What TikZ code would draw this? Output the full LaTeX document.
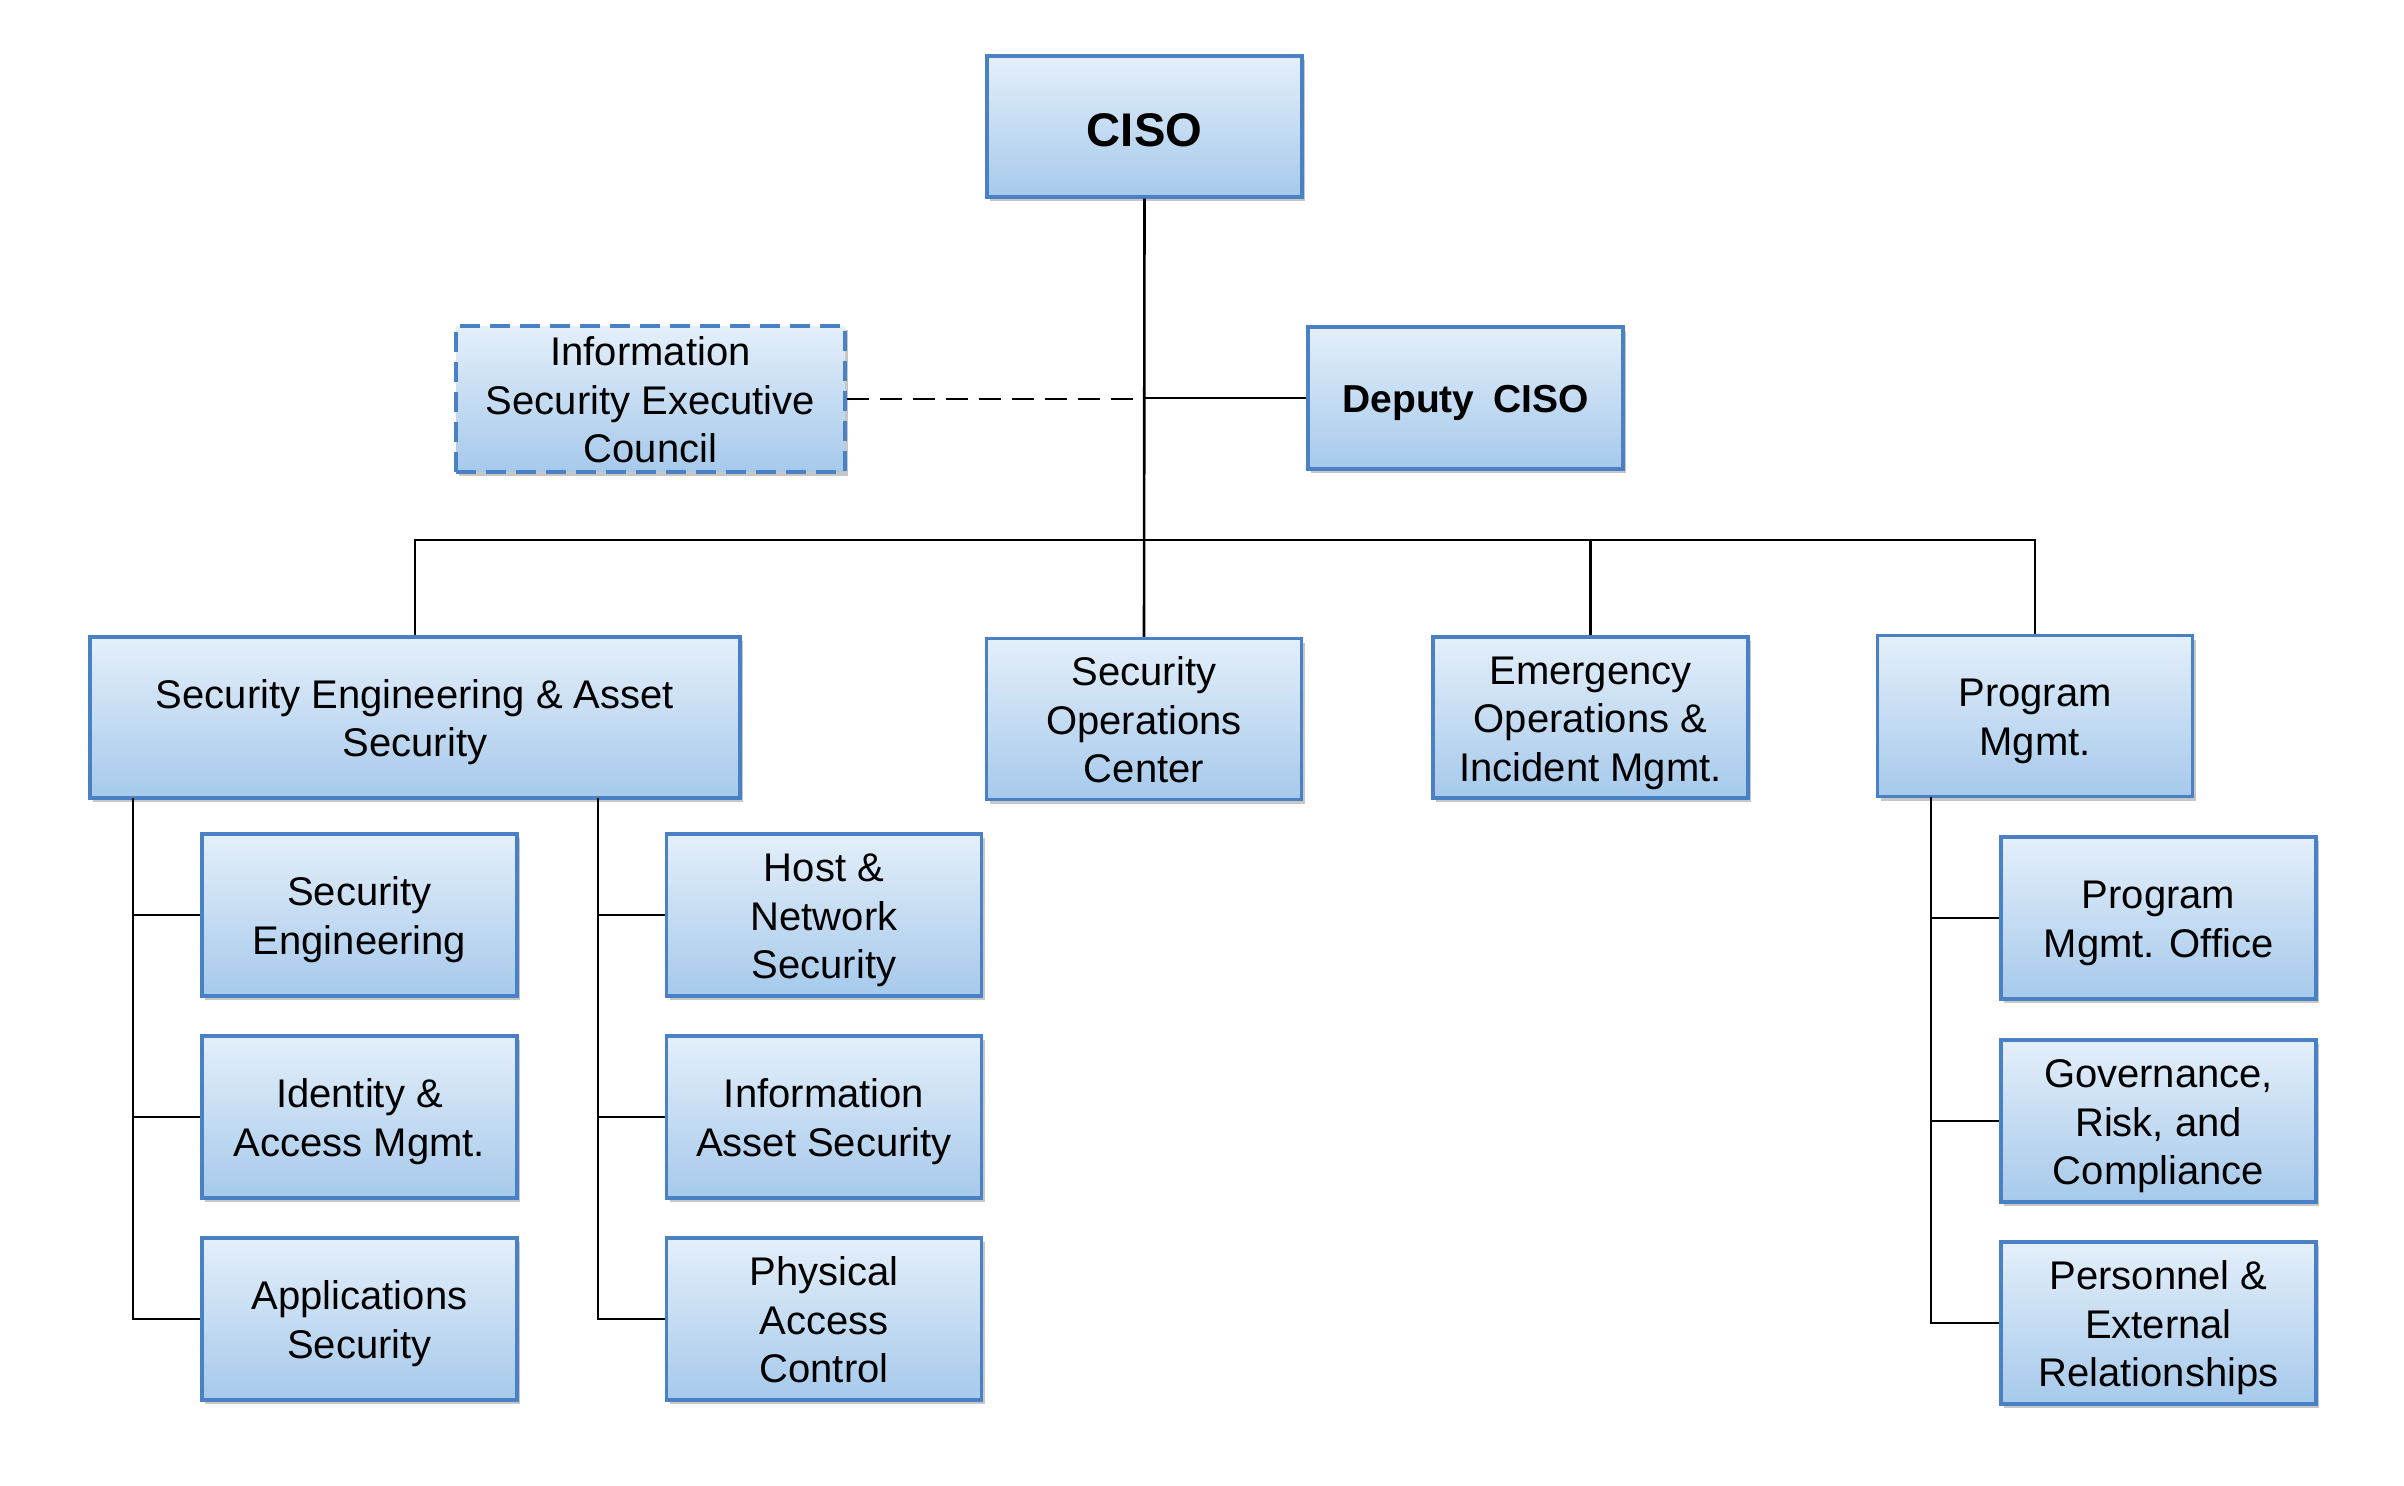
\documentclass[tikz,border=0pt]{standalone}
\usepackage{fontspec}
\setmainfont{Liberation Sans}
\usetikzlibrary{shadows}
\definecolor{bordc}{HTML}{4A80C4}
\definecolor{topc}{HTML}{E4EFFA}
\definecolor{botc}{HTML}{A6C9EB}
\newcommand\tx[2][-2.7pt]{\raisebox{#1}[\height][\depth]{\begin{tabular}{@{}c@{}}#2\end{tabular}}}
\tikzset{
  box/.style={draw=bordc, line width=1.7pt, top color=topc, bottom color=botc,
    inner sep=0pt, text=black,
    font=\fontsize{20}{24.3}\selectfont,
    drop shadow={shadow xshift=1.5pt, shadow yshift=-2.2pt, opacity=0.4, fill=black!55}},
  lvl/.style={box, minimum width=157.5pt, minimum height=80.5pt},
  kid/.style={box, minimum width=157.5pt, minimum height=81pt},
  conn/.style={draw=black, line width=1.3pt},
}
\begin{document}
\begin{tikzpicture}[x=0.5pt, y=-0.5pt]
\useasboundingbox (0,0) rectangle (2404,1486);
% top
\node[box, minimum width=157.5pt, minimum height=70.5pt, font=\fontsize{23.6}{26}\selectfont\bfseries] (ciso) at (1144.5,126.5) {\tx[-4.8pt]{CISO}};
\node[box, dashed, dash pattern=on 10pt off 5pt, minimum width=194.5pt, minimum height=71pt] (council) at (650.5,399) {\tx{Information\\Security Executive\\Council}};
\node[box, minimum width=157.5pt, minimum height=71pt, font=\fontsize{19.5}{24}\selectfont\bfseries] (deputy) at (1465.5,398) {\tx{Deputy\kern4pt\ CISO}};
% level 2
\node[box, minimum width=325pt, minimum height=80.5pt] (seas) at (415,717.5) {\tx{Security Engineering \& Asset\\Security}};
\node[lvl] (soc) at (1144,719) {\tx{Security\\Operations\\Center}};
\node[lvl] (emer) at (1590.5,717.5) {\tx{Emergency\\Operations \&\\Incident Mgmt.}};
\node[lvl] (prog) at (2035,716) {\tx{Program\\Mgmt.}};
% children left
\node[kid] (seceng) at (359.5,915) {\tx{Security\\Engineering}};
\node[kid] (ident) at (359.5,1117) {\tx{Identity \&\\Access Mgmt.}};
\node[kid] (apps) at (359.5,1319) {\tx{Applications\\Security}};
\node[kid] (host) at (824,915) {\tx{Host \&\\Network\\Security}};
\node[kid] (infoa) at (824,1117) {\tx{Information\\Asset Security}};
\node[kid] (phys) at (824,1319) {\tx{Physical\\Access\\Control}};
% children right
\node[kid] (pmo) at (2158.5,918) {\tx{Program\\Mgmt. Office}};
\node[kid] (grc) at (2158.5,1121) {\tx{Governance,\\Risk, and\\Compliance}};
\node[kid] (pers) at (2158.5,1323) {\tx{Personnel \&\\External\\Relationships}};
% connectors
\coordinate (busy) at (0,540);
\coordinate (t1) at (133,798);
\coordinate (t2) at (598,798);
\coordinate (t3) at (1931,797);
\draw[conn] (ciso.south) -- (soc.north);
\draw[conn] (deputy.west) -- (deputy.west -| ciso.south);
\draw[conn, dashed, dash pattern=on 11pt off 5.5pt] (council.east) -- (council.east -| ciso.south);
\draw[conn] (seas.north) |- (busy -| prog.north) -- (prog.north);
\draw[conn] (emer.north) -- (emer.north |- busy);
\draw[conn] (t1) |- (apps.west);
\draw[conn] (t1 |- seceng.west) -- (seceng.west);
\draw[conn] (t1 |- ident.west) -- (ident.west);
\draw[conn] (t2) |- (phys.west);
\draw[conn] (t2 |- host.west) -- (host.west);
\draw[conn] (t2 |- infoa.west) -- (infoa.west);
\draw[conn] (t3) |- (pers.west);
\draw[conn] (t3 |- pmo.west) -- (pmo.west);
\draw[conn] (t3 |- grc.west) -- (grc.west);
\end{tikzpicture}
\end{document}
